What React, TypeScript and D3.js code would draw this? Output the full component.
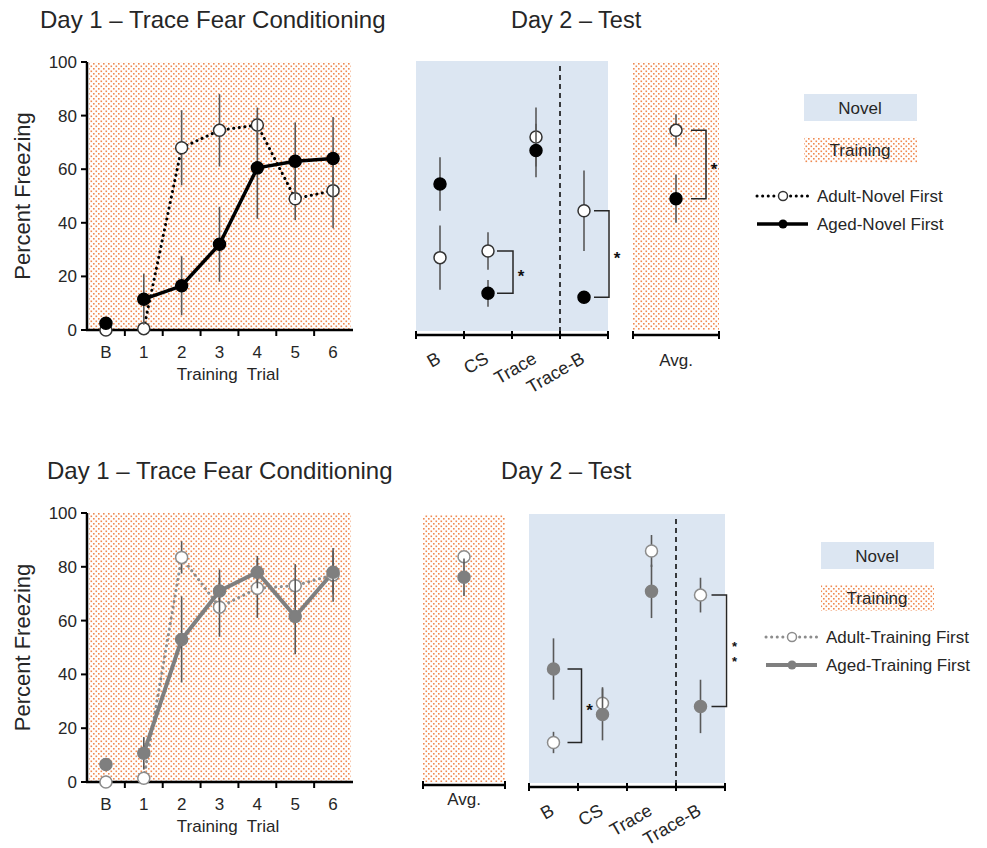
import React from 'react';
import * as d3 from 'd3';

// ---- data (percent freezing, mean and SEM) ----
const trials = ['B', '1', '2', '3', '4', '5', '6'];
const tests = ['B', 'CS', 'Trace', 'Trace-B'];
const yTicks = [0, 20, 40, 60, 80, 100];

// top row: novel first
const adultNovelTrain = [0, 0.5, 68, 74.5, 76.5, 49, 52];
const adultNovelTrainErr = [0, 0, 14, 13.5, 6.5, 8, 14];
const agedNovelTrain = [2.5, 11.5, 16.5, 32, 60.5, 63, 64];
const agedNovelTrainErr = [0, 9.5, 11, 14, 19, 14.5, 15.5];
const adultNovelTest = [27, 29.5, 72, 44.5];
const adultNovelTestErr = [12, 7, 11, 15];
const agedNovelTest = [54.5, 13.7, 67, 12.2];
const agedNovelTestErr = [10, 5, 10, 0];
const adultNovelAvg = [74.5];
const adultNovelAvgErr = [6];
const agedNovelAvg = [49];
const agedNovelAvgErr = [9];

// bottom row: training first
const adultTrainTrain = [0, 1.4, 83.5, 65, 72, 73, 77];
const adultTrainTrainErr = [0, 0, 6, 11, 11, 8, 10];
const agedTrainTrain = [6.5, 10.7, 53, 71, 78, 61.5, 78];
const agedTrainTrainErr = [0, 6, 16, 8, 6, 14, 8];
const adultTrainTest = [14.8, 29.5, 86.5, 70];
const adultTrainTestErr = [4, 6, 6, 6.5];
const agedTrainTest = [42.3, 25.3, 71.4, 28.3];
const agedTrainTestErr = [11.5, 9.7, 10, 10];
const adultTrainAvg = [84.4];
const adultTrainAvgErr = [1.5];
const agedTrainAvg = [76.7];
const agedTrainAvgErr = [7];

const FONT = '"Liberation Sans", Arial, sans-serif';
const TXT = '#262626';
const BLUE = '#dce6f2';
const ERR = '#595959';

type Style = { color: string; open: string; lineW: number; dotW: number; dotColor: string };
const blackStyle: Style = { color: '#000', open: '#333', lineW: 3.5, dotW: 3, dotColor: '#000' };
const greyStyle: Style = { color: '#7f7f7f', open: '#8c8c8c', lineW: 4, dotW: 3, dotColor: '#8c8c8c' };

function Points({ xs, vals, errs, y, filled, st, r = 6 }: any) {
  return (
    <g>
      {vals.map((v: number, i: number) =>
        errs[i] > 0 ? (
          <line key={'e' + i} x1={xs[i]} x2={xs[i]} y1={y(v - errs[i])} y2={y(v + errs[i])} stroke={ERR} strokeWidth={1.6} />
        ) : null,
      )}
      {vals.map((v: number, i: number) => (
        <circle
          key={'c' + i}
          cx={xs[i]}
          cy={y(v)}
          r={r}
          fill={filled ? st.color : '#fff'}
          stroke={filled ? st.color : st.open}
          strokeWidth={1.5}
        />
      ))}
    </g>
  );
}

function YAxis({ x, y }: any) {
  const [y0, y1] = y.range();
  return (
    <g>
      <line x1={x} x2={x} y1={y0 + 1} y2={y1} stroke="#000" strokeWidth={2.5} />
      {yTicks.map((t) => (
        <g key={t}>
          <line x1={x - 6} x2={x} y1={y(t)} y2={y(t)} stroke="#000" strokeWidth={2} />
          <text x={x - 10} y={y(t) + 6} textAnchor="end" fontSize={17} fill={TXT}>
            {t}
          </text>
        </g>
      ))}
    </g>
  );
}

function TrainPanel({ top, bottom, st, adult, adultErr, aged, agedErr, title, titleX }: any) {
  const x = d3.scaleBand().domain(trials).range([87, 352]);
  const y = d3.scaleLinear().domain([0, 100]).range([bottom, top]);
  const cx = trials.map((t) => (x(t) as number) + x.bandwidth() / 2);
  const line = d3
    .line<number>()
    .x((_, i) => cx[i + 1])
    .y((d) => y(d));
  return (
    <g>
      <text x={titleX} y={top - 34} fontSize={24} fill={TXT}>
        {title}
      </text>
      <rect x={89} y={top} width={262} height={bottom - top} fill="url(#dots)" />
      <text
        transform={`translate(30,${(top + bottom) / 2}) rotate(-90)`}
        textAnchor="middle"
        fontSize={22}
        fill={TXT}
      >
        Percent Freezing
      </text>
      <YAxis x={87} y={y} />
      <line x1={86} x2={353} y1={bottom} y2={bottom} stroke="#000" strokeWidth={2.5} />
      {trials.slice(1).map((t) => (
        <line key={t} x1={x(t)} x2={x(t)} y1={bottom} y2={bottom + 6} stroke="#000" strokeWidth={2} />
      ))}
      {trials.map((t, i) => (
        <text key={t} x={cx[i]} y={bottom + 28} textAnchor="middle" fontSize={17} fill={TXT}>
          {t}
        </text>
      ))}
      <text x={228} y={bottom + 50} textAnchor="middle" fontSize={17} fill={TXT} style={{ whiteSpace: 'pre' }}>
        {'Training  Trial'}
      </text>
      <path d={line(adult.slice(1)) || ''} fill="none" stroke={st.dotColor} strokeWidth={st.dotW} strokeDasharray="0.1 5.5" strokeLinecap="round" />
      <path d={line(aged.slice(1)) || ''} fill="none" stroke={st.color} strokeWidth={st.lineW} strokeLinejoin="round" />
      <Points xs={cx} vals={adult} errs={adultErr} y={y} filled={false} st={st} />
      <Points xs={cx} vals={aged} errs={agedErr} y={y} filled={true} st={st} />
    </g>
  );
}

function CatAxis({ x, axisY, labels, rotate, labelY }: any) {
  const [a, b] = x.range();
  const bounds = [...x.domain().map((d: string) => x(d)), b];
  return (
    <g>
      <line x1={a - 1} x2={b + 1} y1={axisY} y2={axisY} stroke="#000" strokeWidth={2.5} />
      {bounds.map((bx: number, i: number) => (
        <line key={i} x1={bx} x2={bx} y1={axisY - 4} y2={axisY + 4} stroke="#000" strokeWidth={2} />
      ))}
      {labels.map((l: string) => {
        const c = (x(l) as number) + x.bandwidth() / 2;
        return rotate ? (
          <text key={l} transform={`translate(${c + 2},${axisY + 27}) rotate(-30)`} textAnchor="end" fontSize={18} fill={TXT}>
            {l}
          </text>
        ) : (
          <text key={l} x={c} y={labelY} textAnchor="middle" fontSize={17} fill={TXT}>
            {l}
          </text>
        );
      })}
    </g>
  );
}

function Bracket({ x, yA, yB, off1, off2, stars }: any) {
  const xv = x + off2;
  const mid = (yA + yB) / 2;
  const fs = stars > 1 ? 13 : 17;
  return (
    <g>
      <path d={`M${x + off1},${yA}H${xv}V${yB}H${x + off1}`} fill="none" stroke="#262626" strokeWidth={1.5} />
      <text textAnchor="middle" fontSize={fs} fontWeight="bold" fill="#111">
        {d3.range(stars).map((i) => (
          <tspan key={i} x={xv + 8} y={mid + fs * 0.6 + (i - (stars - 1) / 2) * 15}>
            *
          </tspan>
        ))}
      </text>
    </g>
  );
}

function TestPanel({ range, top, bottom, axisY, st, adult, adultErr, aged, agedErr, brackets }: any) {
  const x = d3.scaleBand().domain(tests).range(range);
  const y = d3.scaleLinear().domain([0, 100]).range([bottom, top]);
  const cx = tests.map((t) => (x(t) as number) + x.bandwidth() / 2);
  const dashX = x('Trace-B') as number;
  return (
    <g>
      <rect x={range[0]} y={top - 1} width={range[1] - range[0]} height={bottom - top + 2} fill={BLUE} />
      <line x1={dashX} x2={dashX} y1={top + 4} y2={axisY} stroke="#000" strokeWidth={1.5} strokeDasharray="5 4" />
      {brackets.map((b: any, i: number) => (
        <Bracket key={i} x={cx[b.i]} yA={y(adult[b.i])} yB={y(aged[b.i])} off1={b.o1} off2={b.o2} stars={b.stars} />
      ))}
      <Points xs={cx} vals={adult} errs={adultErr} y={y} filled={false} st={st} />
      <Points xs={cx} vals={aged} errs={agedErr} y={y} filled={true} st={st} />
      <CatAxis x={x} axisY={axisY} labels={tests} rotate />
    </g>
  );
}

function AvgPanel({ range, top, bottom, axisY, labelY, st, adult, adultErr, aged, agedErr, bracket }: any) {
  const x = d3.scaleBand().domain(['Avg.']).range(range);
  const y = d3.scaleLinear().domain([0, 100]).range([bottom, top]);
  const cx = [(x('Avg.') as number) + x.bandwidth() / 2];
  return (
    <g>
      <rect x={range[0]} y={top} width={range[1] - range[0]} height={bottom - top} fill="url(#dots)" />
      {bracket ? <Bracket x={cx[0]} yA={y(adult[0])} yB={y(aged[0])} off1={bracket.o1} off2={bracket.o2} stars={bracket.stars} /> : null}
      <Points xs={cx} vals={adult} errs={adultErr} y={y} filled={false} st={st} />
      <Points xs={cx} vals={aged} errs={agedErr} y={y} filled={true} st={st} />
      <CatAxis x={x} axisY={axisY} labels={['Avg.']} rotate={false} labelY={labelY} />
    </g>
  );
}

function Legend({ x, y, st, adultLabel, agedLabel, boxX, boxY }: any) {
  return (
    <g fontSize={17} fill={TXT}>
      <rect x={boxX} y={boxY} width={113} height={27} fill={BLUE} />
      <text x={boxX + 56} y={boxY + 20} textAnchor="middle">Novel</text>
      <rect x={boxX} y={boxY + 43} width={113} height={26} fill="url(#dots)" />
      <text x={boxX + 56} y={boxY + 62} textAnchor="middle">Training</text>
      <line x1={x} x2={x + 51} y1={y} y2={y} stroke={st.dotColor} strokeWidth={st.dotW} strokeDasharray="0.1 5.5" strokeLinecap="round" />
      <circle cx={x + 26} cy={y} r={4.5} fill="#fff" stroke={st.open} strokeWidth={1.5} />
      <text x={x + 60} y={y + 6}>{adultLabel}</text>
      <line x1={x} x2={x + 51} y1={y + 28} y2={y + 28} stroke={st.color} strokeWidth={st.lineW} />
      <circle cx={x + 26} cy={y + 28} r={4.5} fill={st.color} />
      <text x={x + 60} y={y + 34}>{agedLabel}</text>
    </g>
  );
}

export default function App() {
  return (
    <svg width={987} height={848} style={{ position: 'absolute', left: 0, top: 0, background: '#fff' }} fontFamily={FONT}>
      <defs>
        <pattern id="dots" width={5} height={5} patternUnits="userSpaceOnUse">
          <rect width={5} height={5} fill="#fff" />
          <rect x={0.5} y={0.5} width={1.6} height={1.6} fill="#f08a50" />
          <rect x={3} y={3} width={1.6} height={1.6} fill="#f08a50" />
        </pattern>
      </defs>

      {/* top row: novel first */}
      <TrainPanel
        top={62}
        bottom={330}
        st={blackStyle}
        adult={adultNovelTrain}
        adultErr={adultNovelTrainErr}
        aged={agedNovelTrain}
        agedErr={agedNovelTrainErr}
        title="Day 1 – Trace Fear Conditioning"
        titleX={40}
      />
      <text x={511} y={28} fontSize={23.5} fill={TXT}>Day 2 – Test</text>
      <TestPanel
        range={[416, 608]}
        top={62}
        bottom={330}
        axisY={335}
        st={blackStyle}
        adult={adultNovelTest}
        adultErr={adultNovelTestErr}
        aged={agedNovelTest}
        agedErr={agedNovelTestErr}
        brackets={[
          { i: 1, o1: 9, o2: 25, stars: 1 },
          { i: 3, o1: 10, o2: 25, stars: 1 },
        ]}
      />
      <AvgPanel
        range={[633, 719]}
        top={62}
        bottom={330}
        axisY={335}
        labelY={366}
        st={blackStyle}
        adult={adultNovelAvg}
        adultErr={adultNovelAvgErr}
        aged={agedNovelAvg}
        agedErr={agedNovelAvgErr}
        bracket={{ o1: 15, o2: 30, stars: 1 }}
      />
      <Legend x={757} y={196} st={blackStyle} boxX={804} boxY={94} adultLabel="Adult-Novel First" agedLabel="Aged-Novel First" />

      {/* bottom row: training first */}
      <TrainPanel
        top={513}
        bottom={782}
        st={greyStyle}
        adult={adultTrainTrain}
        adultErr={adultTrainTrainErr}
        aged={agedTrainTrain}
        agedErr={agedTrainTrainErr}
        title="Day 1 – Trace Fear Conditioning"
        titleX={47}
      />
      <text x={501} y={479} fontSize={23.5} fill={TXT}>Day 2 – Test</text>
      <AvgPanel
        range={[423, 505]}
        top={515}
        bottom={782}
        axisY={785}
        labelY={805}
        st={greyStyle}
        adult={adultTrainAvg}
        adultErr={adultTrainAvgErr}
        aged={agedTrainAvg}
        agedErr={agedTrainAvgErr}
        bracket={null}
      />
      <TestPanel
        range={[529, 725]}
        top={515}
        bottom={782}
        axisY={787}
        st={greyStyle}
        adult={adultTrainTest}
        adultErr={adultTrainTestErr}
        aged={agedTrainTest}
        agedErr={agedTrainTestErr}
        brackets={[
          { i: 0, o1: 14, o2: 28, stars: 1 },
          { i: 3, o1: 11, o2: 26, stars: 2 },
        ]}
      />
      <Legend x={766} y={637} st={greyStyle} boxX={821} boxY={542} adultLabel="Adult-Training First" agedLabel="Aged-Training First" />
    </svg>
  );
}
